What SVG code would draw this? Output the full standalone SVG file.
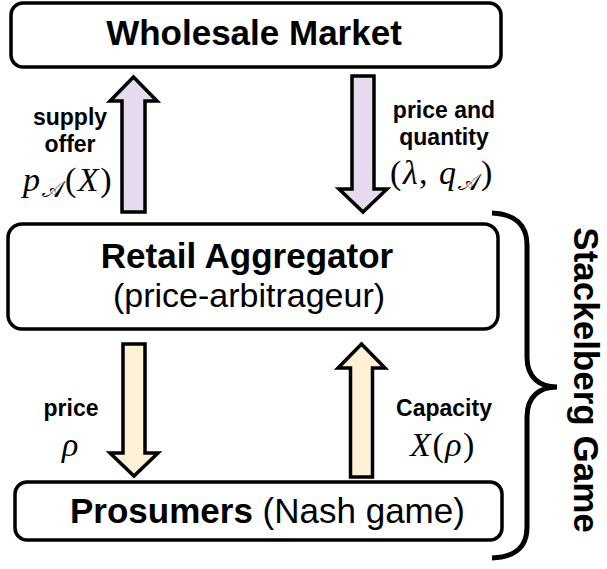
<svg xmlns="http://www.w3.org/2000/svg" width="607" height="569" viewBox="0 0 607 569">
  <style>
    .box { fill: #ffffff; stroke: #000000; stroke-width: 3.5; }
    .title { font-family: "Liberation Sans", Arial, sans-serif; font-weight: bold; font-size: 35px; fill: #000; }
    .sub { font-family: "Liberation Sans", Arial, sans-serif; font-weight: normal; font-size: 35px; fill: #000; }
    .lbl { font-family: "Liberation Sans", Arial, sans-serif; font-weight: bold; font-size: 23px; fill: #000; text-anchor: middle; }
    .math { font-family: "Liberation Serif", "DejaVu Serif", serif; font-size: 34px; fill: #000; text-anchor: middle; letter-spacing: 1.5px; }
    .it { font-style: italic; }
    .scr { font-family: "DejaVu Sans", "Noto Sans", sans-serif; font-style: normal; font-size: 23px; }
    .arrL { fill: #e6dbee; stroke: #000; stroke-width: 3.5; stroke-linejoin: miter; }
    .arrC { fill: #fef1d6; stroke: #000; stroke-width: 3.5; stroke-linejoin: miter; }
    .brace { fill: none; stroke: #000; stroke-width: 5; stroke-linecap: butt; }
  </style>

  <g id="wholesale-market">
    <rect class="box" x="11" y="3" width="490" height="64" rx="12" ry="12"/>
    <text class="title" x="254" y="45" text-anchor="middle">Wholesale Market</text>
  </g>

  <g id="retail-aggregator">
    <rect class="box" x="8" y="224" width="490" height="105" rx="14" ry="14"/>
    <text class="title" x="247" y="268" text-anchor="middle">Retail Aggregator</text>
    <text class="sub" x="249" y="307" text-anchor="middle" style="font-size:34px">(price-arbitrageur)</text>
  </g>

  <g id="prosumers">
    <rect class="box" x="15" y="482" width="487" height="58" rx="12" ry="12"/>
    <text x="70" y="523"><tspan class="title">Prosumers</tspan><tspan class="sub"> (Nash game)</tspan></text>
  </g>

  <g id="connectors">
    <!-- supply offer (up) -->
    <polygon class="arrL" points="133.5,77 157,101 145,101 145,212 122,212 122,101 110,101"/>
    <!-- price and quantity (down) -->
    <polygon class="arrL" points="352,76 374,76 374,189 387,189 363,212 339,189 352,189"/>
    <!-- price (down) -->
    <polygon class="arrC" points="123,344 145,344 145,453 158,453 134,476 110,453 123,453"/>
    <!-- capacity (up) -->
    <polygon class="arrC" points="361.5,344 385,368 372.5,368 372.5,477 350.5,477 350.5,368 338,368"/>
  </g>

  <g id="labels">
    <text class="lbl" x="70" y="125">supply</text>
    <text class="lbl" x="70" y="152">offer</text>
    <text class="math" x="68" y="191"><tspan class="it">p</tspan><tspan class="scr" dy="6">𝒜</tspan><tspan dy="-6">(</tspan><tspan class="it">X</tspan>)</text>

    <text class="lbl" x="444" y="118">price and</text>
    <text class="lbl" x="444" y="145">quantity</text>
    <text class="math" x="442" y="184">(<tspan class="it">λ</tspan>, <tspan class="it">q</tspan><tspan class="scr" dy="6">𝒜</tspan><tspan dy="-6">)</tspan></text>

    <text class="lbl" x="71" y="416">price</text>
    <text class="math it" x="71" y="456">ρ</text>

    <text class="lbl" x="444" y="416">Capacity</text>
    <text class="math" x="443" y="456"><tspan class="it">X</tspan>(<tspan class="it">ρ</tspan>)</text>
  </g>

  <g id="stackelberg-game">
    <path class="brace" d="M492,213 C515,214 527,225 527,245 L527,357 C527,378 540,387 557,387 C540,387 527,396 527,417 L527,527 C527,548 515,557 492,558"/>
    <text class="title" x="574" y="380" text-anchor="middle" transform="rotate(90 574 380)">Stackelberg Game</text>
  </g>
</svg>
